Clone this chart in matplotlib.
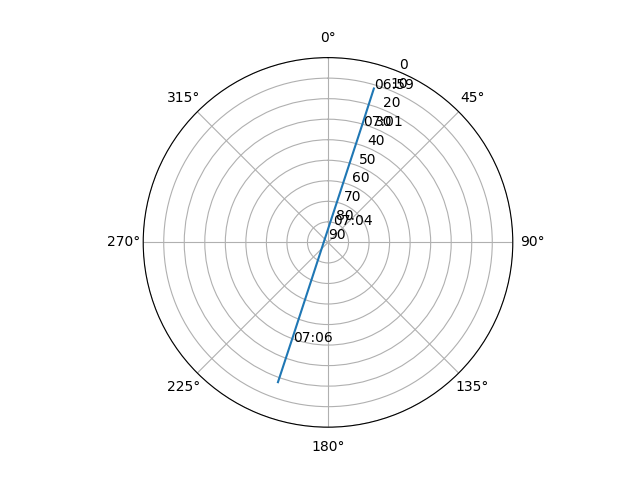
import matplotlib
matplotlib.use('Agg')
import matplotlib.pyplot as plt
import numpy as np

# satellite pass: azimuth (deg, clockwise from north) and elevation (deg)
pass_az = [16.6, 16.2, 15.2, 12.3, 5.0, 287.1, 203.9, 200.3, 199.7]
pass_el = [11.8, 30.9, 51.1, 70.5, 81.2, 88.0, 70.4, 38.6, 17.7]

# time labels along the pass
label_times = ['06:59', '07:01', '07:04', '07:06']
label_az = [16.6, 17.0, 15.4, 199.2]
label_el = [11.8, 30.9, 81.4, 38.6]

r_ticks = list(range(0, 100, 10))


def main():
    fig = plt.figure(figsize=(6.4, 4.8), dpi=100)
    ax = fig.add_subplot(111, projection='polar')
    ax.set_theta_zero_location('N')
    ax.set_theta_direction(-1)

    ax.plot(np.radians(pass_az), pass_el)
    for t, a, e in zip(label_times, label_az, label_el):
        ax.text(np.radians(a), e, t)

    ax.set_ylim(90, 0)
    ax.set_yticks(r_ticks)
    fig.savefig('out.png')
    plt.close(fig)


if __name__ == '__main__':
    main()
